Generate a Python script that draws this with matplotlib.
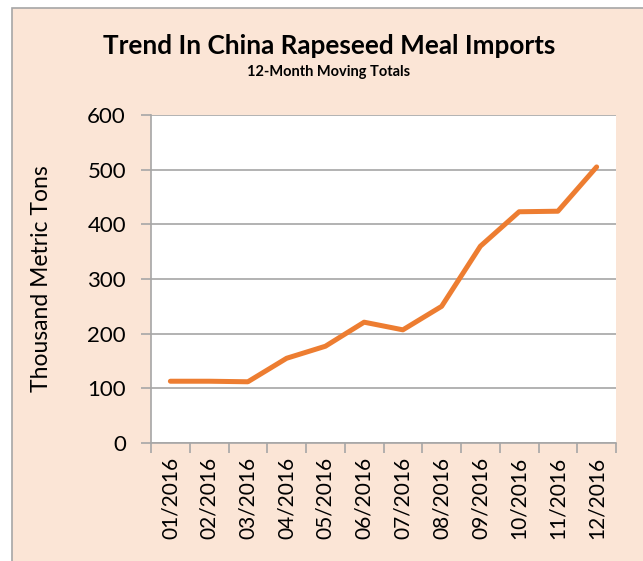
import matplotlib.pyplot as plt
import matplotlib.patches as mpatches
import numpy as np

# ---- data ----
months = ['01/2016', '02/2016', '03/2016', '04/2016', '05/2016', '06/2016',
          '07/2016', '08/2016', '09/2016', '10/2016', '11/2016', '12/2016']
imports = [113, 113, 112, 155, 177, 221, 207, 250, 360, 423, 424, 505]
yticks = [0, 100, 200, 300, 400, 500, 600]

PEACH = '#FBE5D6'
GRID = '#A6A6A6'
ORANGE = '#ED7D31'

plt.rcParams['font.family'] = ['Lato', 'DejaVu Sans']

W, H = 643, 561
fig = plt.figure(figsize=(W / 100, H / 100), dpi=100)
fig.patch.set_facecolor('white')

# outer chart frame (runs off right/bottom edge in the reference)
frame = mpatches.Rectangle((12 / W, -0.05), 1.1, 1 - 8 / H + 0.05,
                           transform=fig.transFigure, facecolor=PEACH,
                           edgecolor=GRID, linewidth=1.2, zorder=-5)
fig.patches.append(frame)

ax = fig.add_axes([151 / W, 1 - 443 / H, (616 - 151) / W, (443 - 115) / H])
ax.set_facecolor('white')
ax.set_zorder(1)

x = np.arange(len(months))
ax.plot(x, imports, color=ORANGE, linewidth=3.6, solid_capstyle='round',
        solid_joinstyle='round', zorder=3)

ax.set_xlim(-0.5, len(months) - 0.5)
ax.set_ylim(0, 600)
ax.set_yticks(yticks)
ax.set_yticklabels([str(v) for v in yticks], fontsize=16)
ax.yaxis.grid(True, color=GRID, linewidth=1.2)
ax.set_axisbelow(True)

ax.set_xticks(x)
ax.set_xticklabels(months, rotation=90, fontsize=15)
ax.set_xticks(np.arange(-0.5, len(months)), minor=True)
ax.tick_params(axis='x', which='major', length=0, pad=10)
ax.tick_params(axis='x', which='minor', length=7, color=GRID, width=1.2)
ax.tick_params(axis='y', length=7, color=GRID, width=1.2, pad=11)

for s in ['top', 'right']:
    ax.spines[s].set_visible(False)
for s in ['left', 'bottom']:
    ax.spines[s].set_color(GRID)
    ax.spines[s].set_linewidth(1.2)

ax.set_ylabel('Thousand Metric Tons', fontsize=16.5)
ax.yaxis.set_label_coords((52 - 151) / 465, 0.5)

fig.text(329 / W, 1 - 46 / H, 'Trend In China Rapeseed Meal Imports',
         ha='center', va='center', fontsize=18.8, fontweight='bold')
fig.text(329 / W, 1 - 72 / H, '12-Month Moving Totals',
         ha='center', va='center', fontsize=10.5, fontweight='bold')

fig.savefig('out.png', dpi=100, facecolor=fig.get_facecolor())
